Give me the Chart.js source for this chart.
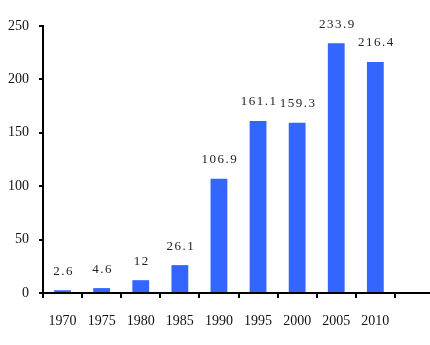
<!DOCTYPE html>
<html>
<head>
<meta charset="utf-8">
<script src="https://cdn.jsdelivr.net/npm/chart.js@4.4.1/dist/chart.umd.min.js"></script>
<style>
html,body{margin:0;padding:0;background:#fff;overflow:hidden;}
#wrap{width:430px;height:345px;overflow:hidden;position:relative;}
canvas{display:block;}
</style>
</head>
<body>
<div id="wrap"><canvas id="c" width="436" height="345"></canvas></div>
<script>
const categories = ['1970','1975','1980','1985','1990','1995','2000','2005','2010',''];
const values = [2.6, 4.6, 12, 26.1, 106.9, 161.1, 159.3, 233.9, 216.4, null];
const valueLabels = ['2.6','4.6','12','26.1','106.9','161.1','159.3','233.9','216.4',''];
const yTicks = [0, 50, 100, 150, 200, 250];

const labelPlugin = {
  id: 'valueLabels',
  afterDatasetsDraw(chart) {
    const ctx = chart.ctx;
    const meta = chart.getDatasetMeta(0);
    ctx.save();
    ctx.font = '13px "Liberation Serif", serif';
    if ('letterSpacing' in ctx) ctx.letterSpacing = '1.5px';
    ctx.fillStyle = '#222';
    ctx.textAlign = 'center';
    ctx.textBaseline = 'middle';
    meta.data.forEach((bar, i) => {
      if (values[i] == null) return;
      ctx.fillText(valueLabels[i], bar.x + 1, bar.y - 19);
    });
    ctx.restore();
  }
};

new Chart(document.getElementById('c'), {
  type: 'bar',
  data: {
    labels: categories,
    datasets: [{
      data: values,
      backgroundColor: '#3366FF',
      borderWidth: 0,
      barPercentage: 0.43,
      categoryPercentage: 1.0
    }]
  },
  options: {
    responsive: false,
    animation: false,
    devicePixelRatio: 1,
    layout: { padding: { top: 26, right: 2, left: 0, bottom: 0 } },
    plugins: { legend: { display: false }, tooltip: { enabled: false } },
    scales: {
      x: {
        offset: true,
        grid: { display: true, offset: true, drawOnChartArea: false, drawTicks: true, tickLength: 5, color: '#000', lineWidth: 2 },
        border: { display: true, color: '#000', width: 2 },
        ticks: { color: '#111', font: { family: '"Liberation Serif", serif', size: 14 }, padding: 15, maxRotation: 0, autoSkip: false },
        afterFit(scale) { scale.height = 52; }
      },
      y: {
        min: 0, max: 250,
        afterBuildTicks(scale) { scale.ticks = yTicks.map(v => ({ value: v })); },
        grid: { display: true, drawOnChartArea: false, drawTicks: true, tickLength: 4, color: '#000', lineWidth: 2 },
        border: { display: true, color: '#000', width: 2 },
        ticks: { color: '#111', font: { family: '"Liberation Serif", serif', size: 14 }, padding: 10 },
        afterFit(scale) { scale.width = 43; }
      }
    }
  },
  plugins: [labelPlugin]
});
</script>
</body>
</html>
